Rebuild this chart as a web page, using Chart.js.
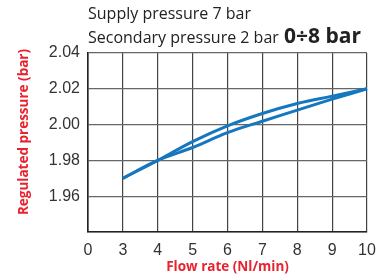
<!DOCTYPE html>
<html>
<head>
<meta charset="utf-8">
<script src="https://cdn.jsdelivr.net/npm/chart.js@4"></script>
<style>
  html, body { margin: 0; padding: 0; background: #fff; }
  #wrap { width: 391px; height: 280px; position: relative; }
</style>
</head>
<body>
<div id="wrap"><canvas id="myChart" width="391" height="280"></canvas></div>
<script>
'use strict';

// flow rate labels (axis is evenly spaced, not to scale)
const flowLabels = ['0', '3', '4', '5', '6', '7', '8', '9', '10'];
// two branches of the hysteresis curve
const upperCurve = [null, 1.970, 1.980, 1.9905, 1.9993, 2.0062, 2.0118, 2.0159, 2.020];
const lowerCurve = [null, 1.970, 1.980, 1.9872, 1.9955, 2.0019, 2.0081, 2.0142, 2.020];
const yTicks = [1.96, 1.98, 2.00, 2.02, 2.04];

// header lines and the y title (sits a bit above the plot centre in the original)
const headerText = {
    id: 'headerText',
    afterDraw(chart) {
        const c = chart.ctx;
        const left = chart.chartArea.left;
        c.save();
        c.fillStyle = '#222';
        c.textBaseline = 'alphabetic';
        c.textAlign = 'left';
        c.font = '16px "Open Sans"';
        c.fillText('Supply pressure 7 bar', left, 19);
        c.fillText('Secondary pressure 2 bar', left, 43);
        c.font = 'bold 21px "Open Sans"';
        c.fillText('0÷8 bar', 284, 43);

        c.translate(24, 132);
        c.rotate(-Math.PI / 2);
        c.textAlign = 'center';
        c.textBaseline = 'middle';
        c.fillStyle = '#e8232f';
        c.font = 'bold 13.5px "Open Sans"';
        c.fillText('Regulated pressure (bar)', 0, 0);
        c.restore();
    }
};

const ctx = document.getElementById('myChart').getContext('2d');

new Chart(ctx, {
    type: 'line',
    data: {
        labels: flowLabels,
        datasets: [
            {
                data: upperCurve,
                borderColor: '#1477bf',
                borderWidth: 3,
                pointRadius: 0,
                tension: 0.4,
                fill: false
            },
            {
                data: lowerCurve,
                borderColor: '#1477bf',
                borderWidth: 3,
                pointRadius: 0,
                tension: 0.4,
                fill: false
            }
        ]
    },
    options: {
        responsive: false,
        animation: false,
        layout: {
            padding: { left: 0, right: 24, top: 53, bottom: 0 }
        },
        plugins: {
            legend: { display: false },
            tooltip: { enabled: false }
        },
        scales: {
            x: {
                type: 'category',
                offset: false,
                grid: { color: '#444', lineWidth: 1.2, drawTicks: false },
                border: { color: '#222', width: 1.6 },
                ticks: {
                    color: '#333',
                    padding: 9,
                    maxRotation: 0,
                    autoSkip: false,
                    font: { family: '"Liberation Sans", Arial', size: 16 }
                },
                title: {
                    display: true,
                    text: 'Flow rate (Nl/min)',
                    color: '#e8232f',
                    padding: { top: 0, bottom: 5 },
                    font: { family: '"Open Sans"', size: 13.5, weight: 'bold' }
                },
                afterFit(scale) { scale.height = 48; }
            },
            y: {
                min: 1.94,
                max: 2.04,
                afterBuildTicks(scale) {
                    scale.ticks = [1.94].concat(yTicks).map(v => ({ value: v }));
                },
                grid: { color: '#666', lineWidth: 1.2, drawTicks: false },
                border: { color: '#222', width: 1.6 },
                ticks: {
                    color: '#333',
                    padding: 8,
                    font: { family: '"Liberation Sans", Arial', size: 16 },
                    callback: v => (v < 1.95 ? '' : v.toFixed(2))
                },
                afterFit(scale) { scale.width = 88; }
            }
        }
    },
    plugins: [headerText]
});
</script>
</body>
</html>
